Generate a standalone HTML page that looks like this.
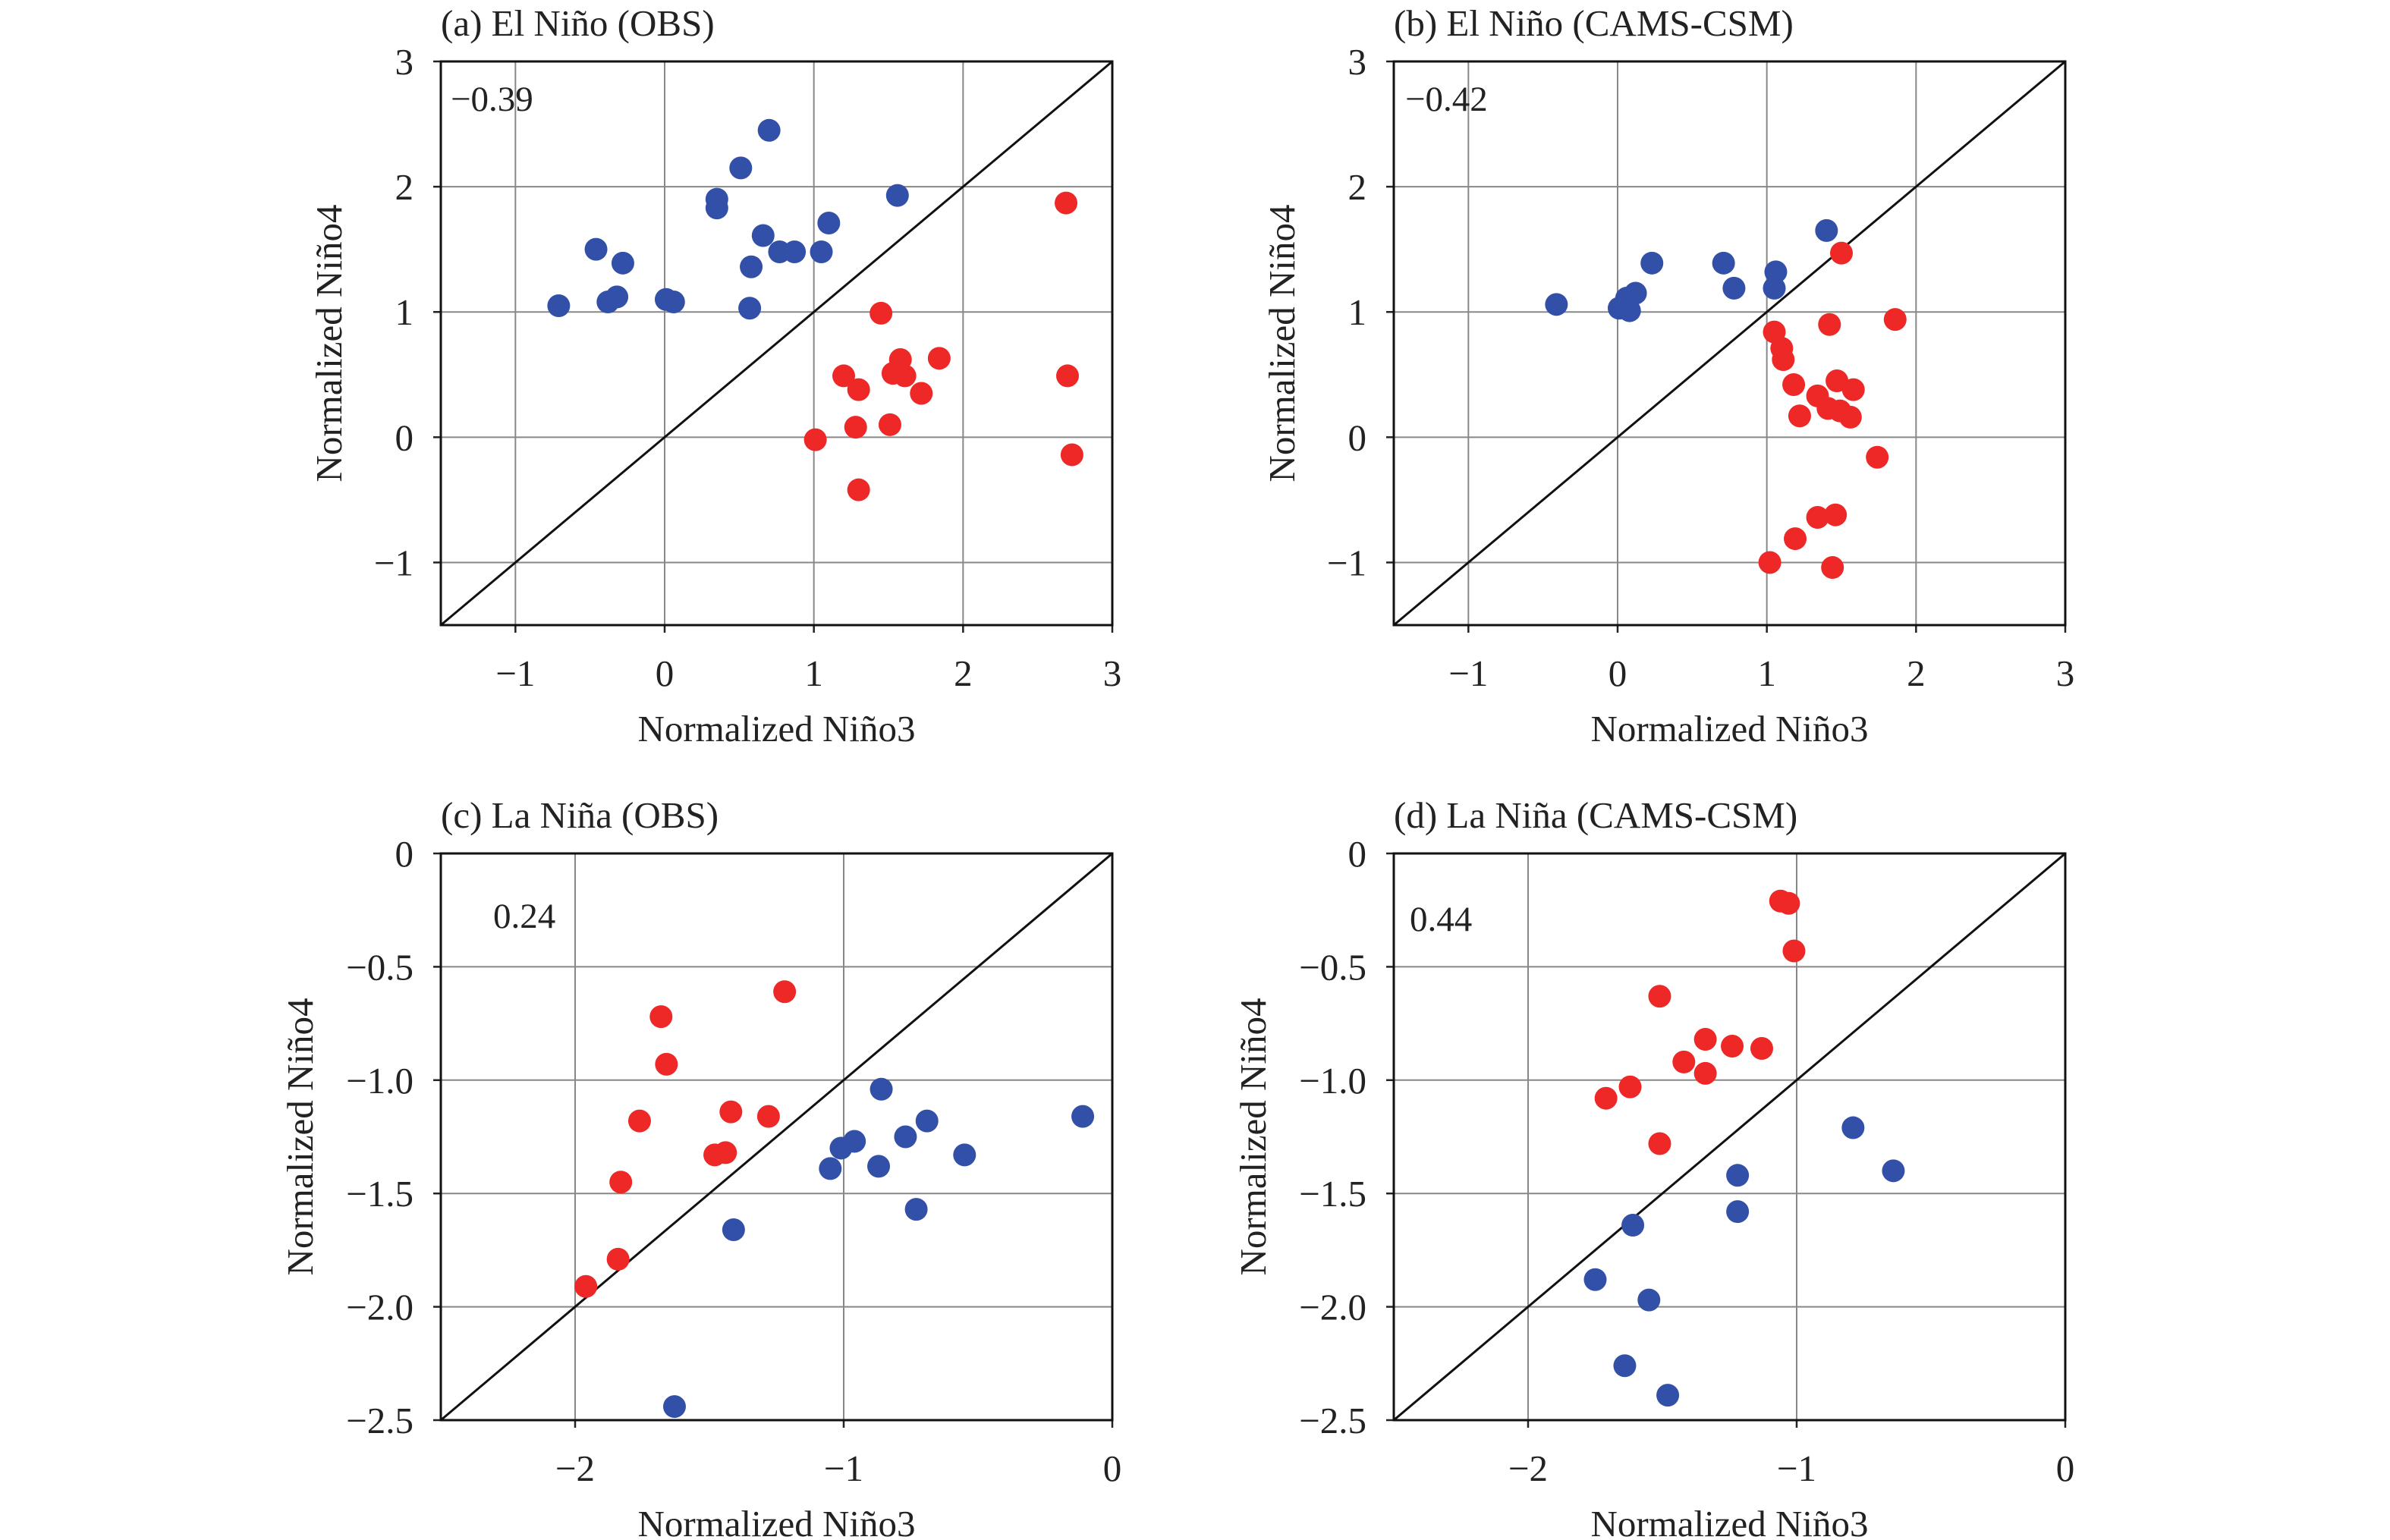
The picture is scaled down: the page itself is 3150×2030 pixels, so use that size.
<!DOCTYPE html>
<html><head><meta charset="utf-8"><style>
html,body{margin:0;padding:0;background:#fff}
svg{display:block}
text{font-family:"Liberation Serif",serif;fill:#222}
</style></head><body>
<svg id="fig" width="3150" height="2030" viewBox="0 0 3150 2030" xmlns="http://www.w3.org/2000/svg"></svg>
<script>
// Panel (a) El Nino OBS
const aBlueX=[-0.71,-0.46,-0.28,-0.38,-0.32,0.01,0.06,0.35,0.35,0.51,0.70,0.66,0.58,0.57,0.77,0.87,1.05,1.10,1.56];
const aBlueY=[1.05,1.50,1.39,1.08,1.12,1.10,1.08,1.90,1.83,2.15,2.45,1.61,1.36,1.03,1.48,1.48,1.48,1.71,1.93];
const aRedX=[2.69,1.45,1.20,1.30,1.58,1.53,1.61,1.84,1.72,1.28,1.51,1.01,1.30,2.70,2.73];
const aRedY=[1.87,0.99,0.49,0.38,0.62,0.51,0.49,0.63,0.35,0.08,0.10,-0.02,-0.42,0.49,-0.14];
// Panel (b) El Nino CAMS-CSM
const bBlueX=[-0.41,0.01,0.06,0.12,0.08,0.23,0.71,0.78,1.06,1.05,1.40];
const bBlueY=[1.06,1.03,1.11,1.15,1.01,1.39,1.39,1.19,1.32,1.19,1.65];
const bRedX=[1.50,1.86,1.42,1.05,1.10,1.11,1.18,1.22,1.34,1.47,1.58,1.41,1.49,1.56,1.74,1.34,1.46,1.19,1.02,1.44];
const bRedY=[1.47,0.94,0.90,0.84,0.71,0.62,0.42,0.17,0.33,0.45,0.38,0.23,0.21,0.16,-0.16,-0.64,-0.62,-0.81,-1.00,-1.04];
// Panel (c) La Nina OBS
const cRedX=[-1.96,-1.84,-1.83,-1.76,-1.68,-1.66,-1.48,-1.44,-1.42,-1.28,-1.22];
const cRedY=[-1.91,-1.79,-1.45,-1.18,-0.72,-0.93,-1.33,-1.32,-1.14,-1.16,-0.61];
const cBlueX=[-1.63,-1.41,-1.05,-1.01,-0.96,-0.86,-0.87,-0.77,-0.69,-0.73,-0.55,-0.11];
const cBlueY=[-2.44,-1.66,-1.39,-1.30,-1.27,-1.04,-1.38,-1.25,-1.18,-1.57,-1.33,-1.16];
// Panel (d) La Nina CAMS-CSM
const dRedX=[-1.06,-1.03,-1.01,-1.51,-1.34,-1.24,-1.13,-1.42,-1.34,-1.62,-1.71,-1.51];
const dRedY=[-0.21,-0.22,-0.43,-0.63,-0.82,-0.85,-0.86,-0.92,-0.97,-1.03,-1.08,-1.28];
const dBlueX=[-0.79,-0.64,-1.22,-1.22,-1.61,-1.75,-1.55,-1.64,-1.48];
const dBlueY=[-1.21,-1.40,-1.42,-1.58,-1.64,-1.88,-1.97,-2.26,-2.39];
const elTicks=[-1,0,1,2,3];
const elTickLabels=["\u22121","0","1","2","3"];
const laXTicks=[-2,-1,0];
const laXTickLabels=["\u22122","\u22121","0"];
const laYTicks=[0,-0.5,-1,-1.5,-2,-2.5];
const laYTickLabels=["0","\u22120.5","\u22121.0","\u22121.5","\u22122.0","\u22122.5"];

const NS="http://www.w3.org/2000/svg";
const svg=document.getElementById('fig');
function mk(tag,attrs,parent){const e=document.createElementNS(NS,tag);for(const k in attrs)e.setAttribute(k,attrs[k]);(parent||svg).appendChild(e);return e;}

function panel(id,x0,x1,y0,y1,dom,xt,xtl,yt,ytl,title,corr,blue,red,ytitleX){
  const g=mk('g',{});
  
  
  const sx=v=>x0+(v-dom[0])/(dom[1]-dom[0])*(x1-x0);
  const sy=v=>y1-(v-dom[2])/(dom[3]-dom[2])*(y1-y0);
  xt.forEach((t,i)=>{
    if(sx(t)>x0+1&&sx(t)<x1-1){const l=mk('line',{x1:sx(t),x2:sx(t),y1:y0,y2:y1,stroke:'#888','stroke-width':2},g);}
    const tx=mk('text',{x:sx(t),y:y1+80,'font-size':49,'text-anchor':'middle'},g);tx.textContent=xtl[i];
    
    mk('line',{x1:sx(t),x2:sx(t),y1:y1,y2:y1+10,stroke:'#222','stroke-width':2.5},g);
  });
  yt.forEach((t,i)=>{
    if(sy(t)>y0+1&&sy(t)<y1-1){const l=mk('line',{x1:x0,x2:x1,y1:sy(t),y2:sy(t),stroke:'#888','stroke-width':2},g);}
    const tx=mk('text',{x:x0-36,y:sy(t)+17,'font-size':49,'text-anchor':'end'},g);tx.textContent=ytl[i];
    
    mk('line',{x1:x0-10,x2:x0,y1:sy(t),y2:sy(t),stroke:'#222','stroke-width':2.5},g);
  });
  const lo=Math.max(dom[0],dom[2]),hi=Math.min(dom[1],dom[3]);
  const d=mk('line',{x1:sx(lo),y1:sy(lo),x2:sx(hi),y2:sy(hi),stroke:'#111','stroke-width':3},g);
  
  const b=mk('rect',{x:x0,y:y0,width:x1-x0,height:y1-y0,fill:'none',stroke:'#111','stroke-width':3},g);
  
  [[blue,'#3350a8','blue-point'],[red,'#ee2727','red-point']].forEach(([s,c,n])=>{
    s[0].forEach((v,i)=>{const p=mk('ellipse',{cx:sx(v),cy:sy(s[1][i]),rx:15,ry:15,fill:c},g);
      });
  });
  const tt=mk('text',{x:x0,y:y0-34,'font-size':49},g);tt.textContent=title;
  
  const ct=mk('text',{x:corr[0],y:corr[1],'font-size':47},g);ct.textContent=corr[2];
  
  const xl=mk('text',{x:(x0+x1)/2,y:y1+153,'font-size':49,'text-anchor':'middle'},g);xl.textContent='Normalized Niño3';
  
  const cy=(y0+y1)/2;
  const yl=mk('text',{x:ytitleX,y:cy,'font-size':49,'text-anchor':'middle',transform:`rotate(-90 ${ytitleX} ${cy})`},g);yl.textContent='Normalized Niño4';
  
}
const elDom=[-1.5,3,-1.5,3], laDom=[-2.5,0,-2.5,0];
panel('a',581,1466,81,824,elDom,elTicks,elTickLabels,elTicks,elTickLabels,'(a) El Niño (OBS)',[594,146,'\u22120.39'],[aBlueX,aBlueY],[aRedX,aRedY],450);
panel('b',1837,2722,81,824,elDom,elTicks,elTickLabels,elTicks,elTickLabels,'(b) El Niño (CAMS-CSM)',[1852,146,'\u22120.42'],[bBlueX,bBlueY],[bRedX,bRedY],1706);
panel('c',581,1466,1125,1872,laDom,laXTicks,laXTickLabels,laYTicks,laYTickLabels,'(c) La Niña (OBS)',[650,1223,'0.24'],[cBlueX,cBlueY],[cRedX,cRedY],412);
panel('d',1837,2722,1125,1872,laDom,laXTicks,laXTickLabels,laYTicks,laYTickLabels,'(d) La Niña (CAMS-CSM)',[1858,1227,'0.44'],[dBlueX,dBlueY],[dRedX,dRedY],1668);
</script>
</body></html>
